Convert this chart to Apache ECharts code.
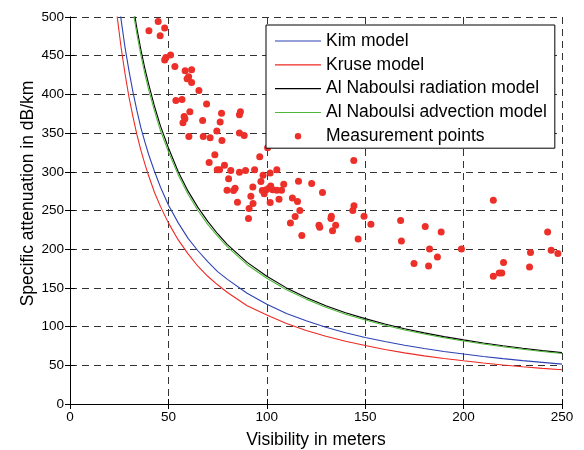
<!DOCTYPE html>
<html>
<head>
<meta charset="utf-8">
<script src="https://cdn.jsdelivr.net/npm/echarts@6/dist/echarts.min.js"></script>
<style>
html,body{margin:0;padding:0;background:#fff;}
#c{width:584px;height:450px;}
</style>
</head>
<body>
<div id="c"></div>
<script>
// Visibility samples (m) for model curves
const visibility = [22, 24, 26, 28, 30, 32, 34, 36, 38, 40, 43, 46, 50, 55, 60, 65, 70, 75, 80, 90, 100, 110, 120, 130, 140, 150, 160, 170, 180, 190, 200, 210, 220, 230, 240, 250];
const kim = [586, 538, 496, 460, 430, 403, 379, 357, 339, 322, 300, 280, 257, 234, 214, 198, 184, 171, 161, 143, 129, 117, 107.5, 99.2, 92, 86, 80.7, 76, 71.7, 67.9, 64.5, 61.4, 58.6, 56.1, 53.8, 51.5];
const kruse = [547, 500, 460, 426, 396, 371, 348, 328, 310.5, 294.5, 273, 255, 234, 212, 194, 178, 165, 154, 144, 127, 115, 104, 95, 87.5, 81, 75.5, 70.5, 66, 62.2, 58.8, 55.8, 53, 50.4, 48.1, 46, 44.2];
const alNaboulsiRad = [750, 688, 635, 589, 550, 516, 485, 458, 434, 413, 384, 359, 331, 300, 275, 254, 236, 220, 206, 183, 165, 150, 137.5, 127, 118, 110.3, 103.3, 97.3, 91.9, 87.1, 82.8, 78.9, 75.3, 72, 69, 66.4];
const alNaboulsiAdv = [738, 676, 624, 580, 541, 508, 478, 451, 427, 406, 378, 353, 326, 296, 271, 250, 232, 217, 203, 180, 162.5, 147.5, 135.5, 125, 116, 108.5, 101.7, 95.7, 90.4, 85.7, 81.4, 77.5, 74, 70.8, 67.8, 65.3];

// Measurement points
const measVis = [44.8, 40.1, 48.1, 45.8, 51.1, 48.7, 48.1, 53.3, 58.5, 61.8, 60.3, 59.5, 61.8, 65.5, 53.8, 56.9, 69.4, 60.9, 77.0, 86.6, 86.1, 58.0, 58.4, 67.4, 57.4, 76.3, 60.4, 67.7, 71.2, 74.6, 77.2, 86.1, 88.5, 73.6, 70.7, 78.5, 74.8, 76.0, 81.7, 86.1, 89.2, 93.8, 96.4, 100.4, 80.6, 98.1, 97.0, 83.9, 83.1, 79.8, 92.9, 97.7, 98.7, 99.7, 101.0, 102.0, 103.0, 91.9, 85.1, 91.0, 90.7, 101.7, 105.1, 105.1, 107.5, 108.6, 116.1, 122.8, 128.3, 144.2, 93.0, 101.7, 106.2, 113.0, 115.6, 116.8, 114.4, 112.0, 117.8, 126.5, 126.9, 132.8, 132.6, 135.0, 133.4, 144.3, 143.7, 146.4, 149.4, 152.9, 168.0, 168.4, 180.5, 188.6, 182.7, 186.7, 174.8, 182.2, 198.9, 215.1, 215.1, 218.1, 219.4, 220.3, 234.0, 233.5, 242.7, 244.5, 247.9];
const measAtt = [494.3, 482.2, 485.7, 475.8, 450.8, 447.7, 444.3, 436.1, 430.5, 431.8, 422.8, 420.2, 415.4, 405.0, 392.1, 393.4, 387.5, 377.5, 375.8, 377.5, 373.6, 371.4, 368.5, 366.3, 363.3, 364.2, 345.6, 345.6, 343.9, 352.6, 340.4, 350.0, 346.9, 321.9, 312.0, 308.6, 302.5, 302.5, 301.6, 299.5, 301.6, 302.5, 319.3, 331.0, 290.9, 295.7, 287.4, 278.9, 275.8, 276.3, 280.5, 276.0, 271.5, 276.7, 278.6, 281.8, 276.7, 268.5, 260.8, 252.5, 239.6, 298.3, 302.5, 276.3, 276.3, 284.0, 287.9, 284.8, 273.2, 314.5, 259.0, 260.2, 264.6, 266.3, 261.5, 249.9, 242.1, 234.0, 217.6, 231.0, 228.2, 242.7, 239.8, 230.8, 223.7, 256.0, 249.9, 213.3, 242.7, 232.3, 237.0, 210.7, 229.2, 222.1, 200.1, 190.0, 181.4, 178.4, 200.1, 263.1, 165.1, 169.4, 169.4, 182.7, 195.6, 176.9, 222.1, 198.7, 194.3];

const xTicks = [0, 50, 100, 150, 200, 250];
const yTicks = [0, 50, 100, 150, 200, 250, 300, 350, 400, 450, 500];

const FONT = "'Liberation Sans', Arial, sans-serif";
const pairs = (xs, ys) => xs.map((x, i) => [x, ys[i]]);
const LINE_ICON = 'path://M0,0M46,14M0,6.5L46,6.5L46,7.6L0,7.6z';
const DOT_ICON = 'path://M0,0M14,14M3.8,7a3.2,3.2 0 1,0 6.4,0a3.2,3.2 0 1,0 -6.4,0z';

const chart = echarts.init(document.getElementById('c'), null, {renderer: 'canvas'});

const lineSeries = (name, data, color) => ({
  name, type: 'line', data: pairs(visibility, data),
  showSymbol: false, symbol: 'none', clip: true,
  lineStyle: {color, width: 1.1}, itemStyle: {color},
  animation: false, z: 2
});

chart.setOption({
  animation: false,
  backgroundColor: '#fff',
  textStyle: {fontFamily: FONT},
  grid: {left: 70, right: 22, top: 17, bottom: 46, containLabel: false, outerBoundsMode: 'none'},
  xAxis: [{
    type: 'value', min: xTicks[0], max: xTicks[xTicks.length - 1], interval: 50,
    name: 'Visibility in meters', nameLocation: 'middle', nameGap: 27, nameMoveOverlap: false,
    nameTextStyle: {fontSize: 17.5, color: '#000', fontFamily: FONT},
    axisLine: {show: true, lineStyle: {color: '#000', width: 1}},
    axisTick: {show: true, inside: true, length: 5, lineStyle: {color: '#000'}},
    axisLabel: {fontSize: 13.5, color: '#000', margin: 6, fontFamily: FONT},
    splitLine: {show: true, lineStyle: {color: '#333', width: 1, type: [7, 5]}}
  }, {
    type: 'value', position: 'top', min: xTicks[0], max: xTicks[xTicks.length - 1], interval: 50,
    axisLine: {show: true, lineStyle: {color: '#000', width: 1}},
    axisTick: {show: true, inside: true, length: 5, lineStyle: {color: '#000'}},
    axisLabel: {show: false}, splitLine: {show: false}
  }],
  yAxis: [{
    type: 'value', min: yTicks[0], max: yTicks[yTicks.length - 1], interval: 50,
    name: 'Specific attenuation in dB/km', nameLocation: 'middle', nameGap: 33, nameMoveOverlap: false,
    nameTextStyle: {fontSize: 17.5, color: '#000', fontFamily: FONT, padding: [0, 0, 0, 34]},
    axisLine: {show: true, lineStyle: {color: '#000', width: 1}},
    axisTick: {show: true, inside: true, length: 5, lineStyle: {color: '#000'}},
    axisLabel: {fontSize: 13.5, color: '#000', margin: 6, fontFamily: FONT},
    splitLine: {show: true, lineStyle: {color: '#333', width: 1, type: [7, 5]}}
  }, {
    type: 'value', position: 'right', min: yTicks[0], max: yTicks[yTicks.length - 1], interval: 50,
    axisLine: {show: true, lineStyle: {color: '#000', width: 1}},
    axisTick: {show: true, inside: true, length: 5, lineStyle: {color: '#000'}},
    axisLabel: {show: false}, splitLine: {show: false}
  }],
  legend: {
    orient: 'vertical', left: 266, top: 25,
    padding: [7, 8, 3, 9],
    itemWidth: 46, itemHeight: 14, itemGap: 5.8,
    backgroundColor: '#fff', borderColor: '#000', borderWidth: 1, borderRadius: 0,
    textStyle: {fontSize: 17.5, color: '#000', fontFamily: FONT},
    data: [
      {name: 'Kim model', icon: LINE_ICON},
      {name: 'Kruse model', icon: LINE_ICON},
      {name: 'Al Naboulsi radiation model', icon: LINE_ICON},
      {name: 'Al Naboulsi advection model', icon: LINE_ICON},
      {name: 'Measurement points', icon: DOT_ICON}
    ]
  },
  series: [
    lineSeries('Kim model', kim, '#2d43b5'),
    lineSeries('Kruse model', kruse, '#ee2a24'),
    lineSeries('Al Naboulsi radiation model', alNaboulsiRad, '#000000'),
    lineSeries('Al Naboulsi advection model', alNaboulsiAdv, '#4fb83a'),
    {
      name: 'Measurement points', type: 'scatter', data: pairs(measVis, measAtt),
      symbol: 'circle', symbolSize: 7,
      itemStyle: {color: '#ec2f28', opacity: 1}, animation: false, z: 3
    }
  ]
});
</script>
</body>
</html>
